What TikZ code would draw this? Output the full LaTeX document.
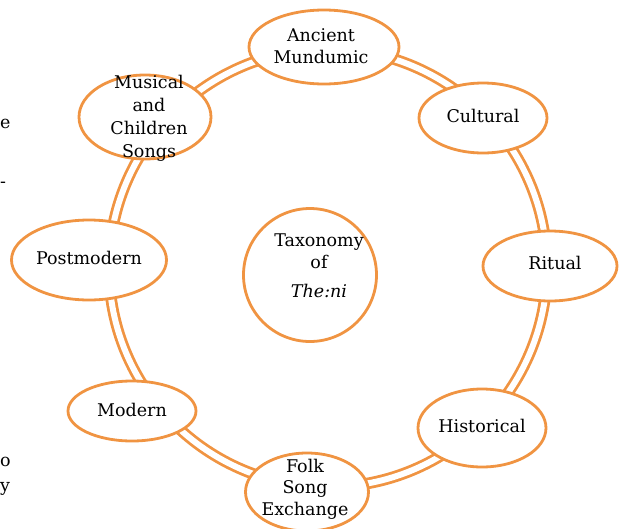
\documentclass[tikz,border=0pt]{standalone}
\usepackage{fontspec}
\setmainfont{DejaVu Serif}
\usepackage{tikz}
\usetikzlibrary{shapes.geometric}

\definecolor{themiorange}{RGB}{240,148,66}

\tikzset{
	ring/.style={draw=themiorange,line width=2.8pt,double=white,double distance=6pt},
	themebox/.style={ellipse,draw=themiorange,line width=2.8pt,fill=white,inner sep=0pt},
	themetext/.style={align=center,inner sep=0pt,font=\fontsize{17.5}{21.5}\selectfont},
	cut/.style={inner sep=0pt,anchor=west,font=\fontsize{17.5}{21.5}\selectfont}
}

\begin{document}
\begin{tikzpicture}[x=1pt,y=-1pt]
	\useasboundingbox (0,0) rectangle (619,528);

	% the ring behind the themes
	\node[circle,minimum size=438pt,inner sep=0pt] (ringpath) at (328,268) {};
	\draw[ring] (ringpath.center) circle[radius=219pt];

	% ellipses
	\node[themebox,minimum width=150pt,minimum height=74pt] (ancientE) at (324,47) {};
	\node[themebox,minimum width=128pt,minimum height=70pt] (culturalE) at (483,118) {};
	\node[themebox,minimum width=134pt,minimum height=70pt] (ritualE) at (550,266) {};
	\node[themebox,minimum width=128pt,minimum height=78pt] (historicalE) at (482,428) {};
	\node[themebox,minimum width=123pt,minimum height=78pt] (folkE) at (307,492) {};
	\node[themebox,minimum width=128pt,minimum height=60pt] (modernE) at (132,411) {};
	\node[themebox,minimum width=155pt,minimum height=80pt] (postmodernE) at (89,260) {};
	\node[themebox,minimum width=132pt,minimum height=84pt] (musicalE) at (145,117) {};
	\node[circle,draw=themiorange,line width=2.8pt,fill=white,minimum size=133pt,inner sep=0pt] (centreC) at (310,275) {};

	% labels
	\node[themetext] (ancient) at (321,46) {Ancient\\Mundumic};
	\node[themetext] (cultural) at (483,116) {Cultural};
	\node[themetext] (ritual) at (555,263) {Ritual};
	\node[themetext] (historical) at (482,426) {Historical};
	\node[themetext] (folk) at (305,489) {Folk\\Song\\Exchange};
	\node[themetext] (modern) at (132,410) {Modern};
	\node[themetext] (postmodern) at (89,258) {Postmodern};
	\node[themetext,font=\fontsize{17.5}{23}\selectfont] (musical) at (149,118) {Musical\\and\\Children\\Songs};
	\node[themetext] (taxonomy) at (319,266) {Taxonomy\\of\\[8pt]\textit{The:ni}};

	% bits of the page text at the left edge
	\node[cut] (cutE) at (0,124) {e};
	\node[cut] (cutDash) at (0,185) {-};
	\node[cut] (cutO) at (0,462) {o};
	\node[cut] (cutY) at (0,489) {y};
\end{tikzpicture}
\end{document}
